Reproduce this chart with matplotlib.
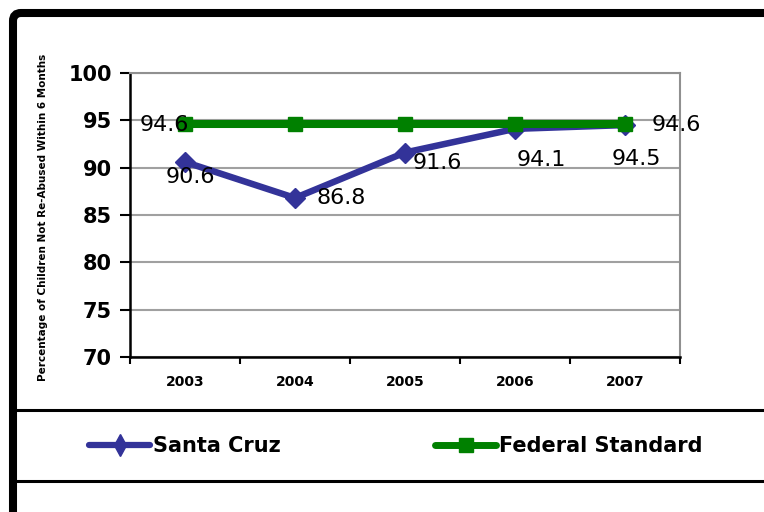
import numpy as np
import matplotlib
matplotlib.use('Agg')
import matplotlib.pyplot as plt
from matplotlib.patches import FancyBboxPatch
from matplotlib.lines import Line2D

# data
years = ['2003', '2004', '2005', '2006', '2007']
santa_cruz = [90.6, 86.8, 91.6, 94.1, 94.5]
federal = [94.6, 94.6, 94.6, 94.6, 94.6]
yticks = [70, 75, 80, 85, 90, 95, 100]

blue = '#333399'
green = '#008000'

W, H = 764, 512
fig = plt.figure(figsize=(W / 100, H / 100), dpi=100)

ax = fig.add_axes([130 / W, (H - 357) / H, 550 / W, 284 / H])
x = np.arange(len(years))

ax.plot(x, santa_cruz, color=blue, lw=4.7, marker='D', ms=10, mec=blue, mew=1, zorder=3)
ax.plot(x, federal, color=green, lw=5.8, marker='s', ms=10, mec=green, mew=1, zorder=4)

ax.set_xlim(-0.5, len(years) - 0.5)
ax.set_ylim(70, 100)
ax.set_yticks(yticks)
ax.set_yticklabels([str(v) for v in yticks], fontsize=15, fontweight='bold')
ax.set_xticks(x)
ax.set_xticklabels(years, fontsize=10, fontweight='bold')
ax.set_xticks(np.arange(-0.5, len(years)), minor=True)
ax.tick_params(axis='x', which='major', length=0, pad=13)
ax.tick_params(axis='x', which='minor', length=5, width=1.5, direction='out')
ax.tick_params(axis='y', length=7, width=1.5, direction='out', pad=6)
ax.grid(axis='y', color='#a0a0a0', lw=1.5)
ax.set_axisbelow(True)
for s in ['top', 'right']:
    ax.spines[s].set_color('#909090')
    ax.spines[s].set_linewidth(1.5)
for s in ['left', 'bottom']:
    ax.spines[s].set_color('black')
    ax.spines[s].set_linewidth(1.8)

ax.set_ylabel('Percentage of Children Not Re-Abused Within 6 Months',
              fontsize=7.5, fontweight='bold')
ax.yaxis.set_label_coords(-82 / 550, 0.49)

# data labels (pixel offsets from the point)
sc_off = [(5, -15, 'center'), (22, 0, 'left'), (8, -10, 'left'), (2, -31, 'left'), (-13, -34, 'left')]
for i, v in enumerate(santa_cruz):
    dx, dy, ha = sc_off[i]
    ax.annotate(f'{v}', (x[i], v), xytext=(dx, dy), textcoords='offset pixels',
                ha=ha, va='center', fontsize=16, zorder=6)
ax.annotate(f'{federal[0]}', (x[0], federal[0]), xytext=(4, -1), textcoords='offset pixels',
            ha='right', va='center', fontsize=16, zorder=6)
ax.annotate(f'{federal[-1]}', (x[-1], federal[-1]), xytext=(27, -1), textcoords='offset pixels',
            ha='left', va='center', fontsize=16, zorder=6)

# legend
handles = [Line2D([], [], color=blue, lw=4.5, marker='d', ms=11, solid_capstyle='round'),
           Line2D([], [], color=green, lw=5, marker='s', ms=10, solid_capstyle='round')]
fig.legend(handles, ['Santa Cruz', 'Federal Standard'], loc='center left',
           bbox_to_anchor=(89 / W, 66 / H), ncol=2, frameon=False, borderpad=0,
           borderaxespad=0, handlelength=2.93, handletextpad=0.15, columnspacing=7.4,
           numpoints=1, prop={'size': 15, 'weight': 'bold'})

# outer frame and divider lines
frame = FancyBboxPatch((0.13, -1.0), 10, 4.99 + 1.0, boxstyle='round,pad=0,rounding_size=0.08',
                       transform=fig.dpi_scale_trans, fill=False, ec='black', lw=5.8)
fig.add_artist(frame)
for yy in [410, 481]:
    fig.add_artist(Line2D([0.13, 7.7], [(H - yy) / 100] * 2, color='black', lw=2.2,
                          transform=fig.dpi_scale_trans))

fig.savefig('out.png', dpi=100, facecolor='white')
